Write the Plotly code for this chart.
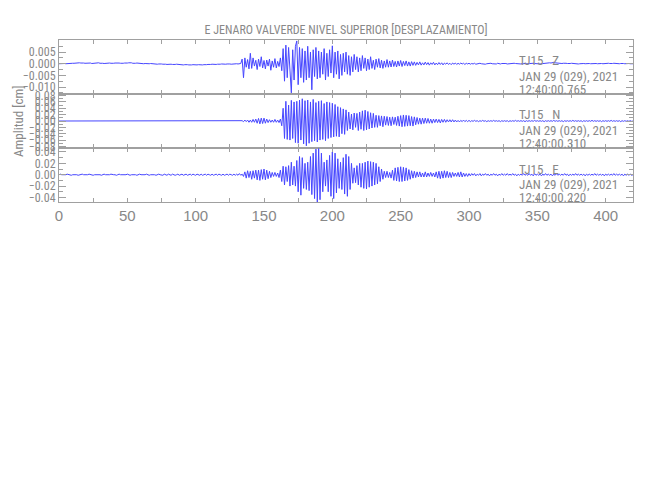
import plotly.graph_objects as go
from plotly.subplots import make_subplots

# ---------------- data (1 sample per second) ----------------
# Z component, units of 1e-4 cm
Z_1e4 = [
    0, 1, 0, 1, 1, 0, 1, 1, 2, 1,
    2, 2, 3, 2, 3, 4, 3, 4, 3, 2,
    3, 4, 2, 3, 1, 2, 3, 2, 3, 4,
    2, 3, 2, 1, 2, 3, 2, 3, 2, 1,
    2, 3, 4, 5, 3, 2, 1, 2, 3, 2,
    3, 4, 5, 4, 2, 1, 2, 3, 2, 1,
    2, 1, 0, 1, 0, -1, 0, 1, 0, -1,
    0, -1, -2, -1, 0, -1, -2, -1, -2, -3,
    -2, -3, -2, -3, -4, -3, -2, -3, -4, -3,
    -4, -5, -4, -3, -4, -5, -6, -5, -4, -5,
    -6, -5, -4, -5, -6, -5, -4, -5, -4, -3,
    -4, -3, -2, -3, -4, -3, -2, -3, -2, -1,
    -2, -1, -2, -1, 0, -1, -2, -1, 0, -1,
    0, -1, 0, 1, 20, -60, 25, -15, 18, -22,
    45, -20, 25, -10, 15, -25, 20, -12, 30, -18,
    14, -22, 16, -10, 20, -28, 12, -15, 22, -18,
    10, -12, 25, -30, 65, -75, 80, -60, 70, -50,
    -125, 60, -70, 75, 98, -90, 70, -60, 65, -80,
    55, -70, 75, -60, 50, -112, 60, -55, 70, -65,
    55, -60, 50, -45, 65, -70, 45, -55, 60, -40,
    77, -60, 50, -45, 55, -65, 40, -50, 45, -35,
    50, -45, 35, -50, 30, -35, 40, -25, 30, -35,
    25, -30, 35, -20, 25, -30, 20, -25, 30, -20,
    15, -25, 20, -15, 22, -18, 15, -20, 12, -15,
    18, -15, 12, -14, 16, -12, 10, -14, 12, -10,
    14, -12, 10, -8, 12, -10, 8, -10, 9, -7,
    8, -7, 6, -5, 8, -6, 4, -5, 7, -4,
    5, -6, 4, -3, 6, -5, 3, -4, 5, -3,
    4, -5, 3, -2, 4, -3, 2, -4, 3, -2,
    3, -3, 2, -2, 3, -1, 2, -3, 2, -1,
    2, -2, 1, -1, 2, -2, 0, -1, 2, 0,
    -1, 1, -2, 0, 1, -1, 2, 0, -1, 1,
    -1, 2, 0, -1, 1, 2, 0, 1, -1, 0,
    1, 0, 1, 2, 1, 0, 1, 0, -1, 0,
    1, 2, 1, 0, 1, 2, 3, 2, 1, 0,
    1, 0, -1, 0, 1, 2, 1, 2, 3, 4,
    3, 5, 6, 4, 3, 5, 4, 2, 1, 2,
    3, 2, 1, 0, 1, 2, 1, 0, 1, 0,
    -1, 0, 1, 2, 1, 0, 1, 2, 1, 0,
    1, 2, 3, 1, 0, 1, 2, 1, 0, 1,
    0, 1, 2, 1, 0, 1, 2, 1, 0, 1,
    0, 1, 2, 1, 0, 1, 0, 1, 0, 1,
    0,
]

# N component, units of 1e-3 cm
N_1e3 = [
    0, 0, 1, 0, 0, -1, 0, 0, 1, 0,
    0, 1, 0, 0, -1, 0, 0, 0, 1, 0,
    0, 0, -1, 0, 0, 1, 0, 0, 0, -1,
    0, 0, 1, 0, 0, 0, -1, 0, 0, 1,
    0, 0, 0, -1, 0, 0, 1, 0, 0, 0,
    -1, 0, 0, 1, 0, 0, 0, -1, 0, 0,
    1, 0, 0, 0, -1, 0, 0, 1, 0, 0,
    0, -1, 0, 0, 1, 0, 0, 0, -1, 0,
    0, 1, 0, 0, 0, -1, 0, 0, 1, 0,
    0, 0, -1, 0, 0, 1, 0, 0, 0, -1,
    0, 0, 1, 0, 0, 0, -1, 0, 0, 1,
    0, 0, 0, -1, 0, 0, 1, 0, 0, 0,
    -1, 0, 0, 1, 0, 0, -1, 0, 1, 0,
    -1, 1, 0, -1, 1, -2, 3, -2, 3, -4,
    3, -4, 5, -4, 6, -7, 8, -9, 9, -8,
    9, -7, 6, -5, 4, -4, 3, -4, 5, -4,
    3, -5, 6, -15, 40, -55, 62, -58, 50, -60,
    65, -55, 60, -68, 62, -70, 66, -60, 70, -72,
    64, -78, 66, -70, 60, -65, 68, -62, 58, -66,
    62, -60, 64, -58, 55, -62, 60, -55, 58, -52,
    56, -50, 52, -48, 45, -50, 42, -40, 38, -42,
    35, -30, 28, -25, 22, -28, 25, -20, 24, -30,
    28, -26, 32, -30, 34, -28, 30, -25, 26, -22,
    24, -20, 18, -20, 17, -15, 16, -18, 15, -13,
    14, -14, 12, -15, 13, -11, 12, -14, 15, -16,
    17, -18, 19, -17, 18, -16, 17, -15, 14, -16,
    13, -12, 11, -10, 9, -10, 9, -8, 9, -7,
    8, -7, 6, -7, 6, -5, 6, -5, 5, -6,
    5, -4, 5, -4, 4, -3, 4, -3, 4, -3,
    3, -3, 2, -3, 2, -2, 3, -2, 2, -2,
    2, -2, 1, -1, 2, -1, 1, -2, 1, -1,
    2, -1, 1, -2, 1, -1, 1, -1, 2, -1,
    1, -1, 1, -2, 1, -1, 1, -1, 1, -2,
    1, -1, 1, -1, 2, -1, 1, -1, 1, -1,
    1, -2, 1, -1, 1, -1, 1, -1, 2, -1,
    1, -1, 1, -1, 1, -2, 1, -1, 1, -1,
    1, -1, 2, -1, 1, -1, 1, -1, 1, -2,
    1, -1, 1, -1, 1, -1, 2, -1, 1, -1,
    1, -1, 1, -2, 1, -1, 1, -1, 1, -1,
    2, -1, 1, -1, 1, -1, 1, -2, 1, -1,
    1, -1, 1, -1, 2, -1, 1, -1, 1, -1,
    1, -2, 1, -1, 1, -1, 1, -1, 1, -1,
    0,
]

# E component, units of 1e-3 cm
E_1e3 = [
    0, 1, 0, 0, -1, 0, 1, 0, 0, -1,
    0, 0, 1, 0, -1, 0, 0, 1, 0, 0,
    -1, 0, 1, 0, 0, -1, 0, 0, 1, 0,
    0, -1, 0, 1, 0, 0, -1, 0, 1, 0,
    0, 0, -1, 0, 1, 0, 0, -1, 0, 0,
    1, 0, -1, 0, 0, 1, 0, -1, 0, 1,
    0, 0, -1, 0, 1, 0, -1, 0, 0, 1,
    0, -1, 0, 1, 0, 0, -1, 1, 0, -1,
    1, 0, -1, 1, 0, -1, 0, 1, -1, 0,
    1, -1, 0, 1, -1, 0, 1, -1, 1, 0,
    -1, 1, 0, -1, 1, -1, 0, 1, -1, 1,
    0, -1, 1, -1, 0, 1, -1, 1, 0, -1,
    1, -1, 0, 1, -1, 1, 0, -1, 1, -1,
    1, -1, 2, -1, 1, -3, 5, -6, 7, -5,
    6, -8, 7, -6, 8, -9, 8, -10, 9, -8,
    10, -9, 8, -7, 6, -5, 4, -3, 4, -3,
    3, -5, 8, -12, 15, -18, 14, -12, 16, -20,
    22, -18, 15, -20, 25, -30, 32, -36, 30, -24,
    20, -26, 22, -28, 32, -35, 38, -42, 45, -48,
    46, -44, 38, -30, 22, -20, 26, -30, 34, -38,
    40, -42, 38, -32, 28, -24, 22, -26, 30, -34,
    36, -38, 32, -26, 20, -15, 12, -14, 16, -18,
    20, -22, 20, -24, 22, -25, 24, -22, 23, -20,
    22, -18, 20, -16, 14, -12, 10, -8, 6, -5,
    6, -5, 4, -6, 8, -10, 12, -11, 13, -12,
    14, -12, 13, -11, 12, -10, 9, -8, 7, -6,
    6, -5, 5, -4, 5, -4, 3, -4, 5, -4,
    3, -3, 4, -3, 3, -4, 5, -6, 6, -7,
    6, -6, 7, -5, 6, -5, 4, -5, 4, -3,
    3, -3, 4, -4, 5, -4, 3, -3, 2, -3,
    2, -2, 2, -1, 2, -2, 1, -1, 2, -2,
    1, -1, 2, -1, 1, -2, 1, -1, 2, -1,
    1, -2, 1, -1, 2, -1, 1, -1, 2, -1,
    1, -1, 2, -1, 1, -2, 1, -1, 1, -1,
    2, -1, 1, -1, 2, -1, 1, -2, 2, -1,
    1, -1, 1, -2, 1, -1, 2, -1, 1, -1,
    1, -2, 1, -1, 2, -1, 1, -1, 1, -1,
    2, -1, 1, -2, 1, -1, 1, -1, 2, -1,
    1, -1, 1, -1, 1, -2, 1, -1, 1, -1,
    1, -1, 2, -1, 1, -1, 1, -1, 1, -2,
    1, -1, 1, -1, 1, -1, 2, -1, 1, -1,
    1, -1, 1, -2, 1, -1, 1, -1, 1, -1,
    0,
]

STATIONS = ["TJ15   Z", "TJ15   N", "TJ15   E"]
DATES = ["JAN 29 (029), 2021"] * 3
TIMES = ["12:40:00.765", "12:40:00.310", "12:40:00.220"]
TITLE = "E JENARO VALVERDE NIVEL SUPERIOR [DESPLAZAMIENTO]"
YTITLE = "Amplitud [cm]"

Z = [v * 1e-4 for v in Z_1e4]
N = [v * 1e-3 for v in N_1e3]
E = [v * 1e-3 for v in E_1e3]

# ---------------- figure ----------------
# page body has an 8 px margin: figure coords = screen coords - 8
OFF = 8
W, H = 650, 500
ML = 59 - OFF
MT = 40 - OFF
MR = W - (633 - OFF)
MB = H - (202 - OFF)
TRACE_COLOR = "#4646ff"
AX = "#a0a0a0"
TXT = "#888888"
NARROW = "Liberation Sans Narrow, Roboto Condensed, DejaVu Sans Condensed, sans-serif"

fig = make_subplots(rows=3, cols=1, shared_xaxes=True, vertical_spacing=0)

for i, series in enumerate([Z, N, E], start=1):
    fig.add_trace(
        go.Scatter(x=list(range(len(series))), y=series, mode="lines",
                   line=dict(color=TRACE_COLOR, width=1), showlegend=False,
                   hoverinfo="skip"),
        row=i, col=1)

common = dict(showline=True, linecolor=AX, linewidth=1, mirror="ticks",
              ticks="inside", tickcolor=AX, tickwidth=1, showgrid=False,
              zeroline=False, automargin=False)

for i in range(1, 4):
    fig.update_xaxes(range=[0, 420], tick0=0, dtick=50, ticklen=4,
                     minor=dict(dtick=25, tick0=0, ticks="inside", ticklen=4,
                                tickcolor=AX, showgrid=False),
                     tickfont=dict(family="Liberation Sans, Arial, sans-serif",
                                   size=15, color=TXT),
                     row=i, col=1, **common)


def lab(vals, fmt):
    out = []
    for v in vals:
        s = format(abs(v), fmt)
        out.append(("\u2212" + s) if v < -1e-12 else s)
    return out


y1t = [-0.010, -0.005, 0.0, 0.005]
y2t = [-0.08, -0.06, -0.04, -0.02, 0.0, 0.02, 0.04, 0.06, 0.08]
y3t = [-0.04, -0.02, 0.0, 0.02, 0.04]
yfont = dict(family=NARROW, size=12, color=TXT)

fig.update_yaxes(range=[-0.013, 0.0102], tickvals=y1t, ticktext=lab(y1t, ".3f"),
                 ticklen=7, minor=dict(dtick=0.0025, tick0=0, ticks="inside",
                                       ticklen=4, tickcolor=AX, showgrid=False),
                 tickfont=yfont, row=1, col=1, **common)
fig.update_yaxes(range=[-0.085, 0.085], tickvals=y2t, ticktext=lab(y2t, ".2f"),
                 ticklen=7, minor=dict(dtick=0.01, tick0=0, ticks="inside",
                                       ticklen=4, tickcolor=AX, showgrid=False),
                 tickfont=yfont, row=2, col=1, **common)
fig.update_yaxes(range=[-0.048, 0.047], tickvals=y3t, ticktext=lab(y3t, ".2f"),
                 ticklen=7, minor=dict(dtick=0.01, tick0=0, ticks="inside",
                                       ticklen=4, tickcolor=AX, showgrid=False),
                 tickfont=yfont, row=3, col=1, **common)

plot_h = H - MT - MB
plot_w = W - ML - MR


def py(p):
    # p: screen pixel (reference) -> paper fraction
    return (H - MB - (p - OFF)) / plot_h


def px(p):
    return ((p - OFF) - ML) / plot_w


ann_font = dict(family=NARROW, size=13, color=TXT)
text_rows = [(60, 76, 89), (114, 130, 143), (169, 184, 197)]
annotations = []
for k in range(3):
    for txt, yy in zip([STATIONS[k], DATES[k], TIMES[k]], text_rows[k]):
        annotations.append(dict(text=txt, xref="paper", yref="paper",
                                x=px(517), y=py(yy), xanchor="left",
                                yanchor="middle", showarrow=False,
                                font=ann_font))

annotations.append(dict(text=YTITLE, xref="paper", yref="paper", x=px(18),
                        y=py(121), xanchor="center", yanchor="middle",
                        textangle=-90, showarrow=False,
                        font=dict(family=NARROW, size=13, color=TXT)))

fig.update_layout(
    width=W, height=H,
    margin=dict(l=ML, r=MR, t=MT, b=MB, autoexpand=False),
    paper_bgcolor="white", plot_bgcolor="white",
    title=dict(text=TITLE, x=(346 - OFF) / W, xanchor="center",
               y=1 - (30 - OFF) / H, yanchor="middle",
               font=dict(family=NARROW, size=12, color=TXT)),
    annotations=annotations,
    showlegend=False,
)

fig.write_html("out.html")
